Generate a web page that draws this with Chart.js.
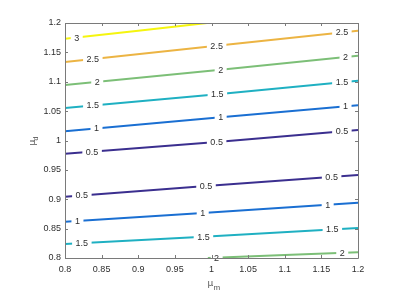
<!DOCTYPE html>
<html>
<head>
<meta charset="utf-8">
<script src="https://cdn.jsdelivr.net/npm/chart.js@4/dist/chart.umd.min.js"></script>
<style>
  body { margin: 0; background: #fff; }
  #wrap { width: 411px; height: 291px; }
</style>
</head>
<body>
<div id="wrap"><canvas id="c"></canvas></div>
<script>
// contour levels, one entry per drawn line (top to bottom)
var levels = [3, 2.5, 2, 1.5, 1, 0.5, 0.5, 1, 1.5, 2];

// x / y of each contour line
var lineX = [
    [0.8, 0.9, 0.994],
    [0.8, 1.007, 1.2],
    [0.8, 1.0125, 1.2],
    [0.8, 1.008, 1.2],
    [0.8, 1.0125, 1.2],
    [0.8, 1.007, 1.2],
    [0.8, 0.9925, 1.2],
    [0.8, 0.988, 1.2],
    [0.8, 0.989, 1.2],
    [0.995, 1.1, 1.2]
];
var lineY = [
    [1.173, 1.187, 1.2],
    [1.1336, 1.1614, 1.1869],
    [1.0945, 1.1205, 1.1443],
    [1.0553, 1.0786, 1.1018],
    [1.0157, 1.0395, 1.0599],
    [0.9775, 0.9975, 1.0179],
    [0.9044, 0.9226, 0.9413],
    [0.8618, 0.8766, 0.8942],
    [0.8239, 0.8363, 0.8511],
    [0.8, 0.805, 0.8097]
];

// where along each line the inline labels sit (x values)
var labelX = [
    [0.816],
    [0.838, 1.007, 1.178],
    [0.844, 1.0125, 1.183],
    [0.838, 1.008, 1.178],
    [0.843, 1.0125, 1.183],
    [0.837, 1.007, 1.178],
    [0.823, 0.9925, 1.164],
    [0.817, 0.988, 1.1586],
    [0.823, 0.989, 1.165],
    [1.007, 1.1785]
];

var levelColors = {
    '0.5': '#3b2f8f',
    '1': '#1a6fd2',
    '1.5': '#1fb0c2',
    '2': '#7cbf77',
    '2.5': '#ecb443',
    '3': '#f5f50f'
};

var textColor = '#2e2e2e';
var axisColor = '#7a7a7a';
var fontFam = '"Liberation Sans", Arial, sans-serif';

function interpY(xs, ys, x) {
    for (var i = 0; i < xs.length - 1; i++) {
        if (x >= xs[i] && x <= xs[i + 1]) {
            var t = (x - xs[i]) / (xs[i + 1] - xs[i]);
            return ys[i] + t * (ys[i + 1] - ys[i]);
        }
    }
    return x < xs[0] ? ys[0] : ys[ys.length - 1];
}

var datasets = levels.map(function (lv, i) {
    return {
        label: String(lv),
        data: lineX[i].map(function (x, j) { return {x: x, y: lineY[i][j]}; }),
        showLine: true,
        borderColor: levelColors[String(lv)],
        borderWidth: 2,
        pointRadius: 0,
        tension: 0,
        fill: false
    };
});

var contourLabels = {
    id: 'contourLabels',
    afterDatasetsDraw: function (chart) {
        var ctx = chart.ctx;
        var xs = chart.scales.x, ys = chart.scales.y;
        ctx.save();
        ctx.font = '9px ' + fontFam;
        ctx.textAlign = 'center';
        ctx.textBaseline = 'middle';
        labelX.forEach(function (list, i) {
            list.forEach(function (lx) {
                var ly = interpY(lineX[i], lineY[i], lx);
                var px = xs.getPixelForValue(lx);
                var py = ys.getPixelForValue(ly);
                var txt = String(levels[i]);
                var w = ctx.measureText(txt).width + 7;
                ctx.fillStyle = '#fff';
                ctx.fillRect(px - w / 2, py - 5, w, 10);
                ctx.fillStyle = textColor;
                ctx.fillText(txt, px, py + 0.5);
            });
        });
        ctx.restore();
    },
    afterDraw: function (chart) {
        var ctx = chart.ctx;
        var a = chart.chartArea;
        var xs = chart.scales.x, ys = chart.scales.y;
        ctx.save();
        ctx.strokeStyle = axisColor;
        ctx.lineWidth = 1;
        ctx.beginPath();
        ctx.rect(Math.round(a.left) + 0.5, Math.round(a.top) + 0.5,
                 Math.round(a.right - a.left), Math.round(a.bottom - a.top));
        ctx.stroke();
        // inward tick marks on all four sides
        ctx.beginPath();
        xs.ticks.forEach(function (t) {
            var p = Math.round(xs.getPixelForValue(t.value)) + 0.5;
            ctx.moveTo(p, a.bottom); ctx.lineTo(p, a.bottom - 3);
            ctx.moveTo(p, a.top); ctx.lineTo(p, a.top + 3);
        });
        ys.ticks.forEach(function (t) {
            var p = Math.round(ys.getPixelForValue(t.value)) + 0.5;
            ctx.moveTo(a.left, p); ctx.lineTo(a.left + 3, p);
            ctx.moveTo(a.right, p); ctx.lineTo(a.right - 3, p);
        });
        ctx.stroke();

        // axis titles with subscripts
        ctx.fillStyle = '#555';
        ctx.textBaseline = 'alphabetic';
        ctx.textAlign = 'left';
        var cx = (a.left + a.right) / 2;
        ctx.font = '9px "DejaVu Sans", sans-serif';
        ctx.fillText('\u03bc', cx - 4, 286);
        ctx.font = '8px ' + fontFam;
        ctx.fillText('m', cx + 2, 290);

        ctx.translate(35, (a.top + a.bottom) / 2 + 5);
        ctx.rotate(-Math.PI / 2);
        ctx.font = '9px "DejaVu Sans", sans-serif';
        ctx.fillText('\u03bc', 0, 0);
        ctx.font = '7px ' + fontFam;
        ctx.fillText('d', 5, 3);
        ctx.restore();
    }
};

function fmt(v) {
    return String(Math.round(v * 100) / 100);
}

var chart = new Chart(document.getElementById('c'), {
    type: 'scatter',
    data: {datasets: datasets},
    options: {
        responsive: true,
        maintainAspectRatio: false,
        animation: false,
        events: [],
        layout: {padding: {left: 0, top: 23, right: 53, bottom: 0}},
        plugins: {legend: {display: false}, tooltip: {enabled: false}},
        scales: {
            x: {
                type: 'linear',
                min: 0.8,
                max: 1.2,
                grid: {display: false, drawTicks: false},
                border: {display: false},
                ticks: {
                    stepSize: 0.05,
                    padding: 6,
                    color: textColor,
                    font: {family: fontFam, size: 9},
                    maxRotation: 0,
                    callback: fmt
                },
                afterFit: function (scale) { scale.height = 33; }
            },
            y: {
                type: 'linear',
                min: 0.8,
                max: 1.2,
                grid: {display: false, drawTicks: false},
                border: {display: false},
                ticks: {
                    stepSize: 0.05,
                    padding: 4,
                    color: textColor,
                    font: {family: fontFam, size: 9},
                    callback: fmt
                },
                afterFit: function (scale) { scale.width = 65; }
            }
        }
    },
    plugins: [contourLabels]
});
</script>
</body>
</html>
